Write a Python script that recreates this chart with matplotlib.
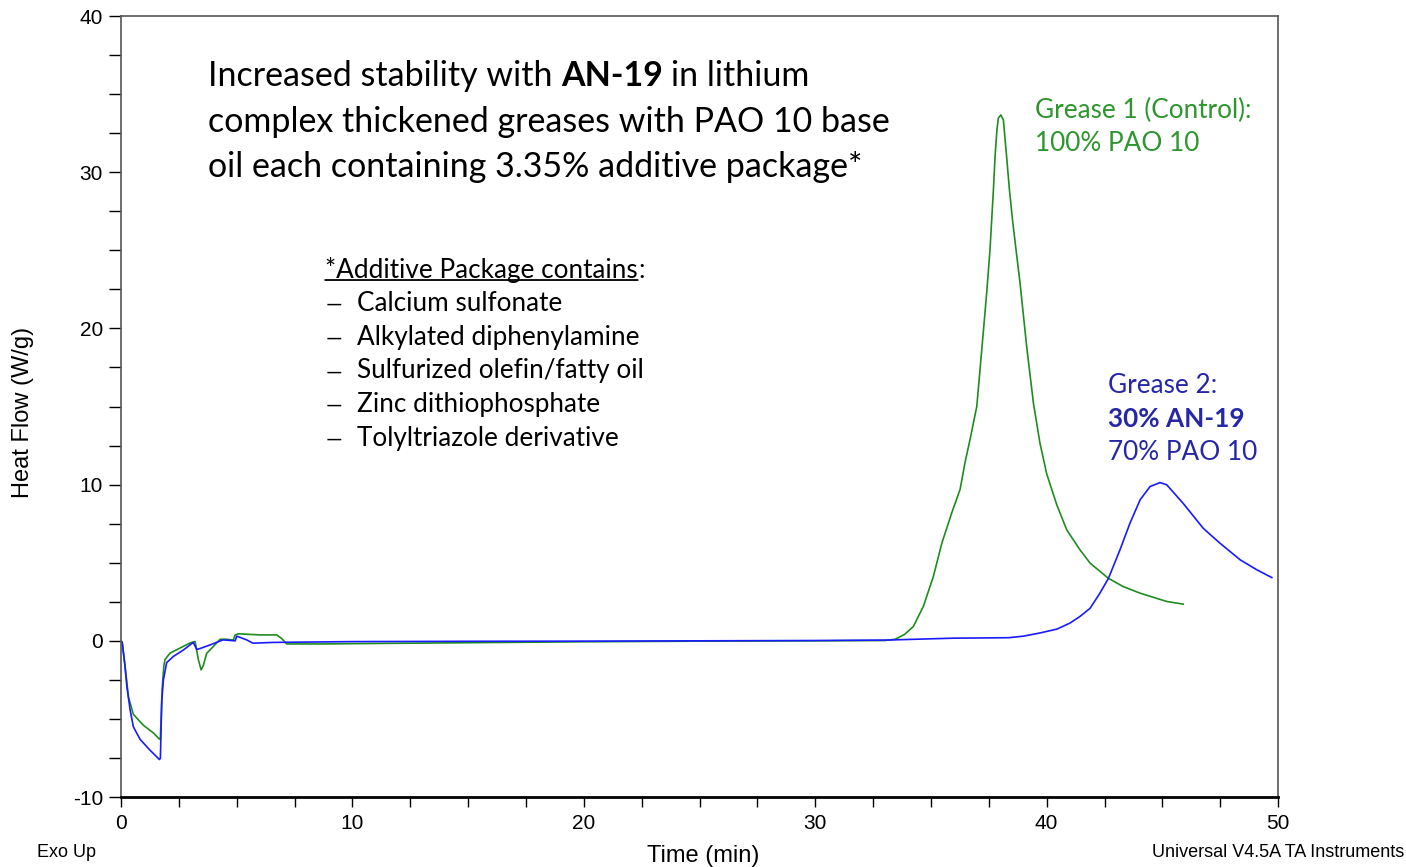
import numpy as np
import matplotlib
matplotlib.use("Agg")
import matplotlib.pyplot as plt
from matplotlib.ticker import MultipleLocator

plt.rcParams["axes.unicode_minus"] = False

# DSC heat-flow traces, time in min, heat flow in W/g
grease1_t = [0, 0.05, 0.17, 0.32, 0.53, 0.96, 1.4, 1.66, 1.7, 1.78, 1.85, 1.9, 2.12, 2.55,
             2.98, 3.2, 3.34, 3.46, 3.55, 3.7, 3.99, 4.28, 4.56, 4.85, 4.93, 5.07, 6.0,
             6.73, 6.94, 7.16, 8.6, 10, 15, 20, 25, 30, 33.0, 33.45, 33.85, 34.24, 34.67,
             35.1, 35.47, 35.9, 36.26, 36.47, 36.69, 36.98, 37.12, 37.27, 37.41, 37.55,
             37.7, 37.77, 37.85, 37.91, 38.02, 38.13, 38.27, 38.39, 38.52, 38.68, 38.85,
             39.14, 39.43, 39.71, 40.0, 40.44, 40.87, 41.44, 41.88, 42.67, 43.3, 44.04,
             45.19, 45.9]
grease1_hf = [0, -0.1, -1.6, -3.6, -4.7, -5.4, -5.9, -6.3, -6.2, -3.0, -1.6, -1.2, -0.78, -0.46,
              -0.14, -0.04, -1.2, -1.86, -1.6, -0.8, -0.36, 0.1, 0.1, 0.05, 0.38, 0.45, 0.38,
              0.38, 0.15, -0.2, -0.2, -0.18, -0.12, -0.06, -0.02, 0.0, 0.02, 0.1, 0.4, 0.92, 2.2,
              4.1, 6.25, 8.2, 9.7, 11.4, 12.9, 15.0, 17.35, 19.9, 22.3, 25.0,
              28.9, 31.0, 32.7, 33.46, 33.67, 33.35, 31.0, 28.9, 27.0, 25.0, 22.9,
              18.8, 15.2, 12.66, 10.7, 8.7, 7.1, 5.83, 4.97, 4.0, 3.48, 3.05,
              2.52, 2.35]

grease2_t = [0, 0.05, 0.17, 0.25, 0.39, 0.53, 0.82, 1.25, 1.66, 1.7, 1.76, 1.83, 1.97, 2.26,
             2.7, 3.12, 3.27, 3.4, 3.85, 4.4, 4.93, 5.0, 5.43, 5.7, 6.6, 8, 10, 15, 20, 25,
             30, 33.1, 35.97, 38.35, 39.0, 39.7, 40.44, 41.0, 41.44, 41.88, 42.3, 42.67,
             43.17, 43.6, 44.04, 44.47, 44.9, 45.19, 45.9, 46.77, 47.49, 48.36, 49.08, 49.73]
grease2_hf = [0, -0.1, -1.6, -2.9, -4.4, -5.5, -6.3, -7.0, -7.6, -7.5, -3.8, -2.5, -1.4, -1.0,
              -0.58, -0.1, -0.55, -0.5, -0.26, 0.06, 0.0, 0.3, 0.06, -0.15, -0.1, -0.08, -0.05,
              -0.03, -0.02, 0.0, 0.02, 0.05, 0.17, 0.2, 0.3, 0.5, 0.75, 1.13, 1.56, 2.09, 3.05,
              4.0, 5.83, 7.53, 9.03, 9.88, 10.13, 9.99, 8.8, 7.2, 6.25, 5.19, 4.55, 4.05]

additives = ["Calcium sulfonate", "Alkylated diphenylamine", "Sulfurized olefin/fatty oil",
             "Zinc dithiophosphate", "Tolyltriazole derivative"]

SANS = "Liberation Sans"
BODY = "Lato"
GREEN_TXT = "#2e962e"
BLUE_TXT = "#2626a8"


def text_runs(ax, x, y, parts, size, color="black", gap=0.25):
    # lay out runs of differing weight one after the other on a common baseline
    prev = None
    for s, weight in parts:
        if prev is None:
            prev = ax.text(x, y, s, fontsize=size, fontweight=weight, color=color,
                           va="baseline", family=BODY)
        else:
            prev = ax.annotate(s, xy=(1, 0), xycoords=prev, xytext=(gap * size, 0),
                               textcoords="offset points", fontsize=size, fontweight=weight,
                               color=color, va="bottom", family=BODY)
    return prev


fig = plt.figure(figsize=(14.06, 8.67), dpi=100)
ax = fig.add_axes([0.0861, 0.0807, 0.8229, 0.9008])

ax.plot(grease1_t, grease1_hf, color="#1e8c1e", lw=1.2)
ax.plot(grease2_t, grease2_hf, color="#1a1aff", lw=1.2)

ax.set_xlim(0, 50)
ax.set_ylim(-10, 40)
ax.xaxis.set_major_locator(MultipleLocator(10))
ax.xaxis.set_minor_locator(MultipleLocator(2.5))
ax.yaxis.set_major_locator(MultipleLocator(10))
ax.yaxis.set_minor_locator(MultipleLocator(2.5))
ax.tick_params(axis="y", which="both", direction="out", length=9, width=1, pad=4, labelsize=15)
ax.tick_params(axis="x", which="both", direction="out", length=7, width=1, pad=5, labelsize=15)
for lab in ax.get_xticklabels() + ax.get_yticklabels():
    lab.set_family(SANS)
for side in ["top", "right", "left"]:
    ax.spines[side].set_color("#555555")
    ax.spines[side].set_linewidth(1.2)
ax.spines["bottom"].set_linewidth(2)

ax.set_ylabel("Heat Flow (W/g)", family=SANS, fontsize=17)
ax.yaxis.set_label_coords(-0.075, 0.492)
ax.set_xlabel("Time (min)", family=SANS, fontsize=17)
ax.xaxis.set_label_coords(0.503, -0.0615)

fig.text(0.0263, 0.0173, "Exo Up", family=SANS, fontsize=13, va="center", ha="left")
fig.text(0.999, 0.0173, "Universal V4.5A TA Instruments", family=SANS, fontsize=13,
         va="center", ha="right")

# headline
title_size = 24.5
text_runs(ax, 3.76, 35.49, [("Increased stability with", "normal"), ("AN-19", "bold"),
                             ("in lithium", "normal")], title_size)
ax.text(3.76, 32.6, "complex thickened greases with PAO 10 base", fontsize=title_size,
        va="baseline", family=BODY)
ax.text(3.76, 29.72, "oil each containing 3.35% additive package*", fontsize=title_size,
        va="baseline", family=BODY)

# additive package list
list_size = 18.8
head = ax.text(8.82, 23.22, "*Additive Package contains", fontsize=list_size,
               va="baseline", family=BODY)
ax.annotate(":", xy=(1, 0), xycoords=head, xytext=(0.5, 0), textcoords="offset points",
            fontsize=list_size, va="bottom", family=BODY)
ax.annotate("", xy=(0, 0.12), xycoords=head, xytext=(1, 0.12), textcoords=head,
            arrowprops=dict(arrowstyle="-", lw=1.3, color="black", shrinkA=0, shrinkB=0))
for i, item in enumerate(additives):
    yb = 21.13 - i * 2.16
    ax.text(8.82, yb, "\u2014", fontsize=list_size * 0.8, va="baseline", family=BODY)
    ax.text(10.19, yb, item, fontsize=list_size, va="baseline", family=BODY)

# curve labels
ax.text(39.5, 33.46, "Grease 1 (Control):", fontsize=list_size, color=GREEN_TXT,
        va="baseline", family=BODY)
ax.text(39.5, 31.33, "100% PAO 10", fontsize=list_size, color=GREEN_TXT,
        va="baseline", family=BODY)
ax.text(42.67, 15.86, "Grease 2:", fontsize=list_size, color=BLUE_TXT,
        va="baseline", family=BODY)
ax.text(42.67, 13.72, "30% AN-19", fontsize=list_size, color=BLUE_TXT, fontweight="bold",
        va="baseline", family=BODY)
ax.text(42.67, 11.59, "70% PAO 10", fontsize=list_size, color=BLUE_TXT,
        va="baseline", family=BODY)

fig.savefig("out.png", dpi=100)
